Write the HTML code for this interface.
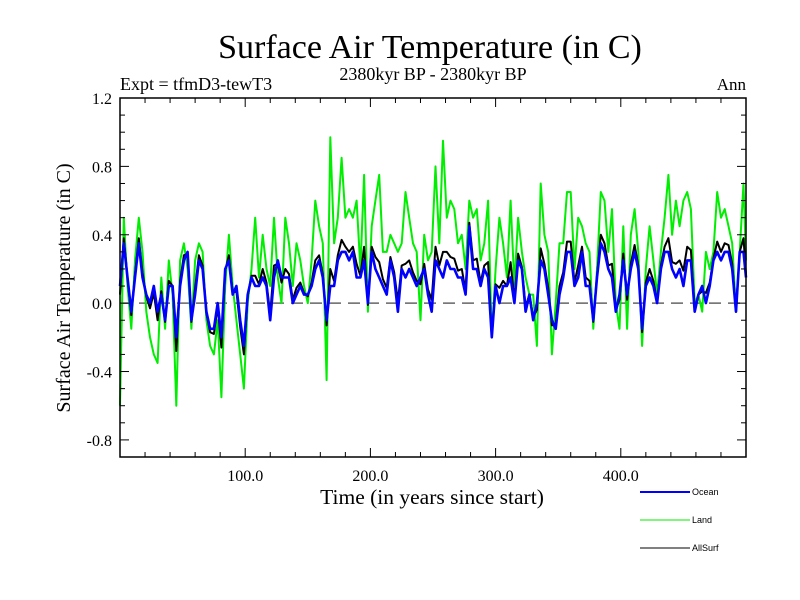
<!DOCTYPE html>
<html><head><meta charset="utf-8"><style>
body{margin:0;background:#fff;width:800px;height:600px;overflow:hidden}
svg{display:block}
.s{font-family:"Liberation Serif",serif;fill:#000}
.ss{font-family:"Liberation Sans",sans-serif;fill:#000}
</style></head><body>
<svg id="c" width="800" height="600">
<text class="s" x="430" y="58" font-size="34" text-anchor="middle">Surface Air Temperature (in C)</text>
<text class="s" x="120" y="90" font-size="18">Expt = tfmD3-tewT3</text>
<text class="s" x="433" y="80" font-size="18" text-anchor="middle">2380kyr BP - 2380kyr BP</text>
<text class="s" x="746" y="90" font-size="17" text-anchor="end">Ann</text>
<text class="s" x="432" y="504" font-size="21.5" text-anchor="middle">Time (in years since start)</text>
<text class="s" x="0" y="0" font-size="20" text-anchor="middle" transform="translate(70,288) rotate(-90)">Surface Air Temperature (in C)</text>
<g id="plot"></g>
<g id="axes"></g>
<g>
<line x1="640" y1="492" x2="690" y2="492" stroke="#0000ff" stroke-width="2"/>
<text class="ss" x="692" y="495" font-size="9">Ocean</text>
<line x1="640" y1="520" x2="690" y2="520" stroke="#00ee00" stroke-width="1"/>
<text class="ss" x="692" y="523" font-size="9">Land</text>
<line x1="640" y1="548" x2="690" y2="548" stroke="#000" stroke-width="1"/>
<text class="ss" x="692" y="551" font-size="9">AllSurf</text>
</g>
</svg>
<script>
const ocean=[0.1,0.35,0.15,-0.05,0.15,0.35,0.15,0.05,0.0,0.1,-0.05,0.05,-0.1,0.1,0.1,-0.2,0.1,0.25,0.3,-0.1,0.05,0.25,0.2,-0.05,-0.15,-0.15,0.0,-0.2,0.2,0.25,0.05,0.1,-0.1,-0.25,0.05,0.15,0.1,0.1,0.15,0.1,-0.1,0.15,0.25,0.15,
0.15,0.15,0.0,0.05,0.1,0.05,0.05,0.1,0.2,0.25,0.15,-0.1,0.1,0.1,0.25,0.3,0.3,0.25,0.3,0.15,0.15,0.25,0.0,0.3,0.2,0.15,0.1,0.05,0.25,0.15,-0.05,0.2,0.15,0.2,0.15,0.1,0.15,0.2,0.05,-0.05,0.25,0.2,
0.15,0.25,0.2,0.2,0.15,0.15,0.05,0.45,0.2,0.2,0.1,0.2,0.15,-0.2,0.1,0.0,0.1,0.1,0.15,0.0,0.25,0.2,-0.05,0.05,-0.1,0.0,0.25,0.2,0.05,-0.1,-0.15,0.05,0.15,0.3,0.3,0.1,0.15,0.3,0.1,0.1,-0.1,0.15,0.35,
0.3,0.2,0.15,-0.05,0.05,0.25,0.05,0.2,0.3,0.2,-0.15,0.1,0.15,0.1,0.0,0.2,0.3,0.3,0.2,0.15,0.2,0.1,0.25,0.25,-0.05,0.05,0.1,0.0,0.1,0.25,0.3,0.25,0.3,0.3,0.2,-0.05,0.3,0.3,0.15];
const land=[-0.6,0.5,0.1,-0.15,0.25,0.5,0.3,-0.05,-0.2,-0.3,-0.35,0.15,-0.15,0.25,0.05,-0.6,0.25,0.35,0.2,-0.15,0.25,0.35,0.3,-0.1,-0.25,-0.3,-0.1,-0.55,0.1,0.4,0.1,-0.1,-0.3,-0.5,0.0,0.2,0.5,0.15,0.4,0.2,0.1,0.5,0.15,0.0,
0.5,0.35,0.1,0.35,0.25,0.1,0.0,0.25,0.6,0.45,0.35,-0.45,0.97,0.35,0.5,0.85,0.5,0.55,0.5,0.6,0.2,0.75,-0.05,0.45,0.6,0.75,0.3,0.3,0.4,0.35,0.3,0.35,0.65,0.5,0.35,0.3,-0.1,0.4,0.25,0.3,0.8,0.35,
0.95,0.5,0.6,0.55,0.35,0.4,0.2,0.6,0.5,0.55,0.25,0.35,0.6,-0.2,0.2,0.5,0.35,0.15,0.6,0.1,0.5,0.3,0.15,0.05,0.05,-0.25,0.7,0.4,0.3,-0.3,0.0,0.35,0.35,0.65,0.65,0.2,0.5,0.45,0.35,0.3,-0.15,0.2,0.65,
0.6,0.3,0.55,0.0,-0.15,0.45,-0.15,0.4,0.55,0.3,-0.25,0.2,0.45,0.25,0.05,0.3,0.5,0.75,0.4,0.6,0.45,0.6,0.65,0.55,0.0,0.05,-0.05,0.3,0.2,0.3,0.65,0.5,0.55,0.45,0.35,-0.05,0.3,0.7,0.25];
const allsurf=[0.05,0.38,0.15,-0.07,0.17,0.38,0.18,0.04,-0.03,0.06,-0.1,0.07,-0.11,0.13,0.1,-0.28,0.13,0.28,0.29,-0.11,0.09,0.28,0.22,-0.06,-0.17,-0.18,-0.02,-0.26,0.19,0.28,0.06,0.07,-0.14,-0.3,0.04,0.16,0.16,0.11,0.2,0.12,-0.06,0.22,0.23,0.12,
0.2,0.17,0.02,0.09,0.12,0.06,0.04,0.12,0.25,0.28,0.17,-0.13,0.2,0.13,0.28,0.37,0.33,0.3,0.33,0.23,0.16,0.33,-0.01,0.33,0.27,0.24,0.14,0.09,0.27,0.18,0.01,0.22,0.23,0.25,0.18,0.13,0.11,0.23,0.08,0.02,0.33,0.22,
0.3,0.3,0.27,0.26,0.19,0.2,0.07,0.47,0.25,0.26,0.12,0.22,0.24,-0.2,0.11,0.09,0.13,0.1,0.24,0.02,0.29,0.21,-0.02,0.05,-0.08,-0.04,0.32,0.23,0.09,-0.13,-0.12,0.1,0.18,0.36,0.36,0.12,0.22,0.33,0.15,0.13,-0.11,0.16,0.4,
0.35,0.22,0.23,-0.04,0.02,0.29,0.02,0.23,0.34,0.22,-0.17,0.12,0.2,0.13,0.01,0.22,0.33,0.38,0.24,0.23,0.25,0.19,0.33,0.31,-0.04,0.05,0.07,0.06,0.12,0.26,0.36,0.3,0.35,0.34,0.23,-0.05,0.3,0.38,0.17];
const yTicks=[1.2,0.8,0.4,0.0,-0.4,-0.8];
const yTickLabels=["1.2","0.8","0.4","0.0","-0.4","-0.8"];
const xTicks=[100,200,300,400];
const xTickLabels=["100.0","200.0","300.0","400.0"];
const years=[];for(let i=0;i<ocean.length;i++)years.push(Math.min(i*3,500));
const L=120,R=746,T=98,B=457,X0=0,X1=500,Y0=-0.9,Y1=1.2;
const sx=v=>L+(v-X0)/(X1-X0)*(R-L);
const sy=v=>B-(v-Y0)/(Y1-Y0)*(B-T);
const NS="http://www.w3.org/2000/svg";
const plot=document.getElementById('plot'),axes=document.getElementById('axes');
function mk(tag,at,par){const e=document.createElementNS(NS,tag);for(const k in at)e.setAttribute(k,at[k]);par.appendChild(e);return e;}
const zl=mk('line',{x1:L,x2:R,y1:sy(0),y2:sy(0),stroke:'#666','stroke-width':1.5,'stroke-dasharray':'12,7'},plot);


function series(vals,col,w,name){
 const d=vals.map((v,i)=>(i?'L':'M')+sx(years[i]).toFixed(1)+','+sy(v).toFixed(1)).join('');
 const p=mk('path',{d:d,fill:'none',stroke:col,'stroke-width':w,'stroke-linejoin':'round'},plot);
 
 
}
series(land,'#00ee00',2,'land-series');
series(allsurf,'#000000',2,'allsurf-series');
series(ocean,'#0000ff',2.6,'ocean-series');
const fr=mk('rect',{x:L,y:T,width:R-L,height:B-T,fill:'none',stroke:'#000','stroke-width':1.5},axes);


for(let v=-0.9;v<=1.2001;v+=0.1){
 const y=sy(v);const maj=Math.abs(Math.round(v*10)%4)===0;const len=maj?9:5;
 mk('line',{x1:L,x2:L+len,y1:y,y2:y,stroke:'#000'},axes);
 mk('line',{x1:R,x2:R-len,y1:y,y2:y,stroke:'#000'},axes);
}
for(let v=20;v<500;v+=20){
 const x=sx(v);const len=v%100===0?9:5;
 mk('line',{x1:x,x2:x,y1:B,y2:B-len,stroke:'#000'},axes);
 mk('line',{x1:x,x2:x,y1:T,y2:T+len,stroke:'#000'},axes);
}
yTicks.forEach((v,i)=>{const t=mk('text',{x:L-8,y:sy(v)+6,'font-size':16,'text-anchor':'end','class':'s'},axes);t.textContent=yTickLabels[i];
 
 });
xTicks.forEach((v,i)=>{const t=mk('text',{x:sx(v),y:B+24,'font-size':16,'text-anchor':'middle','class':'s'},axes);t.textContent=xTickLabels[i];
 
 });
</script>
</body></html>
